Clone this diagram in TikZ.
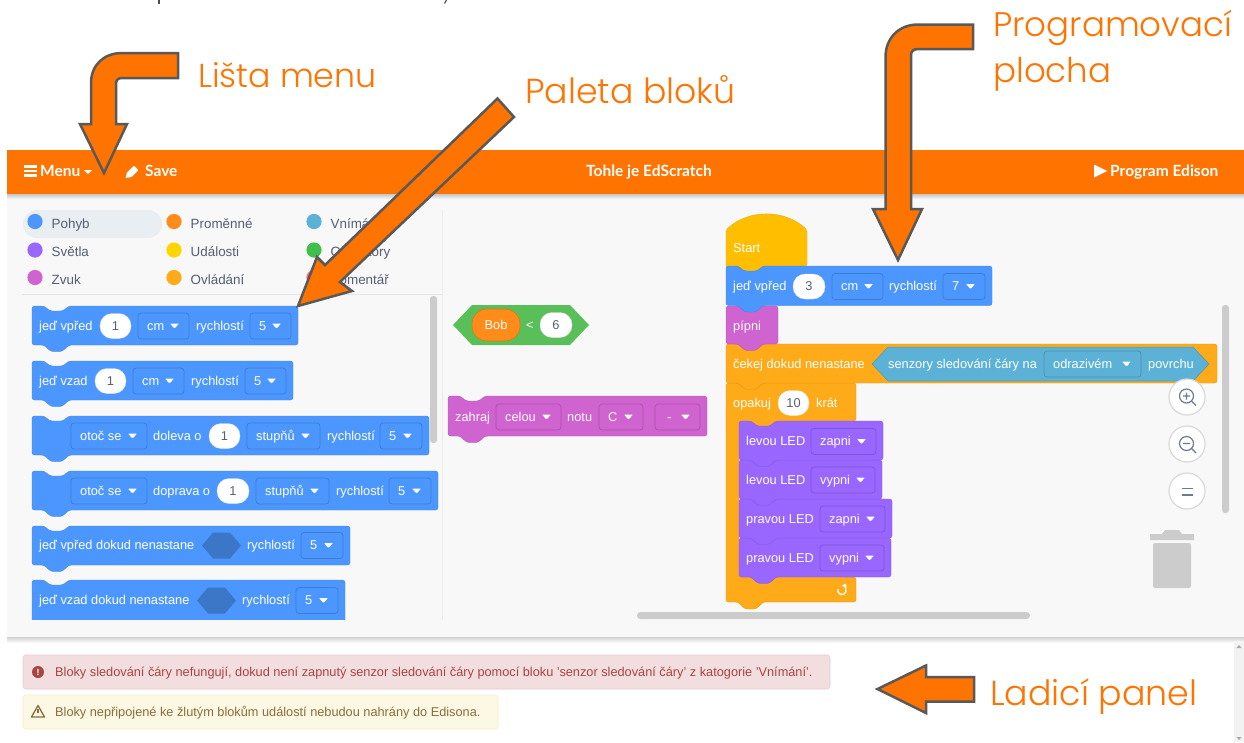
\documentclass[tikz,border=0pt]{standalone}
\usepackage{fontspec}
\setmainfont{Liberation Sans}
\newfontfamily\annotfont{Poppins Light}
\newfontfamily\hdrfont{Lato Bold}
\usetikzlibrary{calc}
\definecolor{orangeA}{HTML}{FF7300}
\definecolor{arrowedge}{HTML}{595959}
\definecolor{bgpanel}{HTML}{F8F8F8}
\definecolor{blueB}{HTML}{4C97FF}
\definecolor{purpleB}{HTML}{9966FF}
\definecolor{pinkB}{HTML}{CF63CF}
\definecolor{amberB}{HTML}{FFAB19}
\definecolor{yellowB}{HTML}{FFBF00}
\definecolor{greenB}{HTML}{59C059}
\definecolor{cyanB}{HTML}{5CB1D6}
\definecolor{varB}{HTML}{FF8C1A}
\definecolor{scrollC}{HTML}{CCCCCC}
\definecolor{catText}{HTML}{575E75}
\definecolor{iconC}{HTML}{6E7A94}
\definecolor{errbg}{HTML}{F2DEDE}\definecolor{errbd}{HTML}{EBCCD1}\definecolor{errtx}{HTML}{A94442}
\definecolor{warnbg}{HTML}{FCF8E3}\definecolor{warnbd}{HTML}{FAEBCC}\definecolor{warntx}{HTML}{8A6D3B}
\definecolor{catsel}{HTML}{E9EEF2}
\definecolor{catY}{HTML}{FFD500}
\definecolor{catG}{HTML}{40BF4A}
\definecolor{catR}{HTML}{FF6680}
\newcounter{nn}
\newcommand{\nid}{n\arabic{nn}}
\tikzset{
  x=1pt,y=-1pt,
  calloutarrow/.style={fill=orangeA,draw=arrowedge,line width=2.5pt,miter limit=10},
  annot/.style={text=orangeA,inner sep=0,anchor=base west},
  uilabel/.style={text=white,inner sep=0,anchor=base west,font=\fontsize{12.8}{12.8}\selectfont},
  darklabel/.style={text=catText,inner sep=0,anchor=base,font=\fontsize{12.8}{12.8}\selectfont},
  catlabel/.style={text=catText,inner sep=0,anchor=base west,font=\fontsize{13.4}{13.4}\selectfont},
  hdrlabel/.style={text=white,inner sep=0,anchor=base west,font=\hdrfont\fontsize{15.5}{15.5}\selectfont},
  msglabel/.style={inner sep=0,anchor=base west,font=\fontsize{12.75}{12.75}\selectfont},
}
% stack block: x y w h colour
\newcommand{\blk}[5]{\begin{scope}[shift={(#1,#2)}]
  \path[fill=#5,draw=#5!88!black,line width=.4pt,rounded corners=2.5pt]
   (0,0) -- (12,0) -- (18,5) -- (31,5) -- (37,0) -- ({#3},0) -- ({#3},{#4}) -- (37,{#4}) -- (30,{#4+6.5}) -- (19,{#4+6.5}) -- (12,{#4}) -- (0,{#4}) -- cycle;
  \end{scope}}
\newcommand{\lbl}[3]{\stepcounter{nn}\node[uilabel] (\nid) at (#1,#2+4.2) {#3};}
\newcommand{\pill}[4]{\path[fill=white,draw=black!12,line width=.3pt,rounded corners=12pt] (#1,#3-12.5) rectangle (#2,#3+12.5);
  \stepcounter{nn}\node[darklabel] (\nid) at ({(#1+#2)/2},#3+4.2) {#4};}
% dropdown: x1 x2 cy text colour
\newcommand{\drp}[5]{\path[fill=#5,draw=#5!82!black,line width=.7pt,rounded corners=3pt] (#1,#3-13) rectangle (#2,#3+13);
  \stepcounter{nn}\node[uilabel] (\nid) at (#1+9,#3+4.2) {#4};
  \path[fill=white,rounded corners=.8pt] (#2-19,#3-2.5) -- (#2-10,#3-2.5) -- (#2-14.5,#3+2.5) -- cycle;}
\newcommand{\hexa}[4]{\path[fill=#4] (#1,#3) -- (#1+11,#3-13) -- (#2-11,#3-13) -- (#2,#3) -- (#2-11,#3+13) -- (#1+11,#3+13) -- cycle;}
\newcommand{\cat}[4]{\path[fill=#3] (#1,#2) circle (7.6);
  \stepcounter{nn}\node[catlabel] (\nid) at (#1+16.5,#2+6.6) {#4};}
\newcommand{\zoombtn}[1]{\path[fill=white,draw=black!15,line width=1.2pt] (1187,#1) circle (18);}
\begin{document}
\begin{tikzpicture}
\useasboundingbox (0,0) rectangle (1244,742);
\fill[white] (0,0) rectangle (1244,742);
% clipped text descenders at the very top
\draw[black!70,line width=1.1pt] (159,0) -- (159,4);
\draw[black!70,line width=1.1pt] (446.5,0) -- (444.5,3.5);
% application body
\fill[bgpanel] (7,194) rectangle (1244,637);
\shade[top color=black!22,bottom color=bgpanel] (7,194) rectangle (1244,199);
\shade[top color=black!18,bottom color=white] (7,637) rectangle (1244,643);
\fill[orangeA] (7,150) rectangle (1244,194);
% debug panel scrollbar
\fill[black!5] (1234,643) rectangle (1244,742);
\path[fill=black!35] (1236.5,648) -- (1241.5,648) -- (1239,645) -- cycle;
\path[fill=black!35] (1236.5,737) -- (1241.5,737) -- (1239,740) -- cycle;
% header
\foreach \yy in {166.5,171,175.5} \draw[white,line width=2.2pt] (24,\yy) -- (37,\yy);
\node[hdrlabel] (menu) at (40,176) {Menu};
\path[fill=white] (84,170) -- (92,170) -- (88,174) -- cycle;
\path[fill=white,rounded corners=.8pt] (125.5,178) -- (127,172.5) -- (134,165.5) -- (138.5,170) -- (131.5,177) -- cycle;
\node[hdrlabel] (save) at (145,176) {Save};
\node[hdrlabel] (title) at (586,176) {Tohle je EdScratch};
\path[fill=white] (1094,164.5) -- (1107,171) -- (1094,177.5) -- cycle;
\node[hdrlabel] (prog) at (1110,176) {Program Edison};
% categories
\fill[catsel,rounded corners=14pt] (23,210) rectangle (162,238);
\cat{35}{221.5}{blueB}{Pohyb}
\cat{35}{250}{purpleB}{Světla}
\cat{35}{277.5}{pinkB}{Zvuk}
\cat{174}{221.5}{varB}{Proměnné}
\cat{174}{250}{catY}{Události}
\cat{174}{277.5}{amberB}{Ovládání}
\cat{314}{221.5}{cyanB}{Vnímání}
\cat{314}{250}{catG}{Operátory}
\cat{314}{277.5}{catR}{Komentář}
\draw[black!10,line width=.7pt] (22,294.5) -- (442,294.5);
\draw[black!8,line width=.7pt] (442.5,210) -- (442.5,620);
\path[fill=scrollC,rounded corners=3pt] (430,296) rectangle (437,443);
% palette
\begin{scope}
\clip (7,295) rectangle (442,619);
\blk{32}{306}{266}{39}{blueB}
\lbl{39}{326}{jeď vpřed}\pill{100}{131}{326}{1}\drp{138}{189}{326}{cm}{blueB}\lbl{196}{326}{rychlostí}\drp{250}{291}{326}{5}{blueB}
\blk{32}{361}{261}{39}{blueB}
\lbl{39}{381}{jeď vzad}\pill{95}{126}{381}{1}\drp{133}{184}{381}{cm}{blueB}\lbl{191}{381}{rychlostí}\drp{245}{286}{381}{5}{blueB}
\blk{32}{416}{397}{39}{blueB}
\drp{71}{147}{436}{otoč se}{blueB}\lbl{153}{436}{doleva o}\pill{209}{240}{436}{1}\drp{247}{320}{436}{stupňů}{blueB}\lbl{327}{436}{rychlostí}\drp{380}{422}{436}{5}{blueB}
\blk{32}{471}{406}{39}{blueB}
\drp{71}{147}{491}{otoč se}{blueB}\lbl{153}{491}{doprava o}\pill{217}{249}{491}{1}\drp{256}{329}{491}{stupňů}{blueB}\lbl{336}{491}{rychlostí}\drp{389}{431}{491}{5}{blueB}
\blk{32}{526}{318}{39}{blueB}
\lbl{39}{545.5}{jeď vpřed dokud nenastane}\hexa{202}{241}{545.5}{blueB!78!black}\lbl{247}{545.5}{rychlostí}\drp{301}{343}{545.5}{5}{blueB}
\blk{32}{580}{313}{60}{blueB}
\lbl{39}{600.5}{jeď vzad dokud nenastane}\hexa{197}{236}{600.5}{blueB!78!black}\lbl{242}{600.5}{rychlostí}\drp{296}{338}{600.5}{5}{blueB}
\end{scope}
% loose workspace blocks
\path[fill=greenB] (453,325) -- (472,305) -- (570,305) -- (589,325) -- (570,345) -- (472,345) -- cycle;
\path[fill=varB,draw=varB!85!black,line width=.6pt,rounded corners=15pt] (472,309) rectangle (520,341);
\node[uilabel,anchor=base] (bob) at (496,329.2) {Bob};
\lbl{526}{325}{<}
\pill{540}{572}{325}{6}
\blk{448}{396}{259}{40}{pinkB}
\lbl{455}{417}{zahraj}\drp{496}{561}{417}{celou}{pinkB}\lbl{567}{417}{notu}\drp{599}{643}{417}{C}{pinkB}\drp{655}{700}{417}{\hspace*{3pt}-}{pinkB}
% stack
\path[fill=yellowB,draw=yellowB!90!black,line width=.4pt,rounded corners=2pt] (726,267) -- (726,230) .. controls (748,209) and (785,209) .. (807,230) -- (807,266) -- (763,266) -- (756,272) -- (745,272) -- (738,266) -- cycle;
\node[uilabel] (start) at (733,252.5) {Start};
% C block
\path[fill=amberB,draw=amberB!90!black,line width=.4pt,rounded corners=2.5pt] (726,383) -- (738,383) -- (744,388) -- (757,388) -- (763,383) -- (856,383) -- (856,421) -- (776,421) -- (770,427) -- (757,427) -- (751,421) -- (739,421) -- (739,577) -- (856,577) -- (856,602) -- (763,602) -- (756,609) -- (745,609) -- (738,602) -- (726,602) -- cycle;
\lbl{733}{403}{opakuj}\pill{778}{809}{403}{10}\lbl{816}{403}{krát}
\draw[white,line width=1.3pt] (838,589) arc[start angle=200,end angle=-30,radius=4.2];
\path[fill=white] (846,583.5) -- (842,585.5) -- (846.5,588.5) -- cycle;
% wait block
\blk{726}{344}{491}{39}{amberB}
\lbl{733}{364}{čekej dokud nenastane}
\path[fill=cyanB,draw=cyanB!85!black,line width=.5pt] (872,364) -- (888,347) -- (1193,347) -- (1209,364) -- (1193,381) -- (888,381) -- cycle;
\lbl{888}{364}{senzory sledování čáry na}\drp{1044}{1141}{364}{odrazivém}{cyanB}\lbl{1148}{364}{povrchu}
% pipni
\blk{726}{306}{52}{38}{pinkB}
\lbl{733}{326}{pípni}
% drive
\blk{726}{266}{266}{39.5}{blueB}
\lbl{733}{286.5}{jeď vpřed}\pill{793}{825}{286.5}{3}\drp{832}{883}{286.5}{cm}{blueB}\lbl{889}{286.5}{rychlostí}\drp{943}{985}{286.5}{7}{blueB}
% LEDs
\blk{739}{538}{152}{39}{purpleB}
\lbl{746}{558}{pravou LED}\drp{820}{884}{558}{vypni}{purpleB}
\blk{739}{499}{153}{39}{purpleB}
\lbl{746}{519}{pravou LED}\drp{820}{885}{519}{zapni}{purpleB}
\blk{739}{460}{143}{39}{purpleB}
\lbl{746}{480}{levou LED}\drp{811}{875}{480}{vypni}{purpleB}
\blk{739}{421}{144}{39}{purpleB}
\lbl{746}{441.5}{levou LED}\drp{811}{876}{441.5}{zapni}{purpleB}
% workspace scrollbars
\path[fill=scrollC,rounded corners=3pt] (1222,305) rectangle (1229,513);
\path[fill=scrollC,rounded corners=3.5pt] (637,612) rectangle (1030,619);
% zoom buttons
\zoombtn{397}\zoombtn{444}\zoombtn{491}
\draw[iconC,line width=1.2pt] (1186.5,396) circle (7) (1191.5,401) -- (1196,405.5) (1183,396) -- (1190,396) (1186.5,392.5) -- (1186.5,399.5);
\draw[iconC,line width=1.2pt] (1186.5,443.5) circle (7) (1191.5,448.5) -- (1196,453) (1183,443.5) -- (1190,443.5);
\draw[iconC,line width=1.6pt] (1181.5,488.5) -- (1192.5,488.5) (1181.5,495) -- (1192.5,495);
% trash
\path[fill=scrollC] (1150,540) -- (1150,534) -- (1162,534) -- (1165,530) -- (1179,530) -- (1182,534) -- (1194,534) -- (1194,540) -- cycle;
\path[fill=scrollC,rounded corners=2pt] (1153,543) -- (1191,543) -- (1191,588) -- (1153,588) -- cycle;
% debug panel
\path[fill=errbg,draw=errbd,line width=.6pt,rounded corners=3pt] (23,655) rectangle (830,689);
\path[fill=errtx] (38,672) circle (6);
\node[text=white,inner sep=0,font=\bfseries\fontsize{9}{9}\selectfont] (bang) at (38,672) {!};
\node[msglabel,text=errtx] (err) at (55,676) {Bloky sledování čáry nefungují, dokud není zapnutý senzor sledování čáry pomocí bloku 'senzor sledování čáry' z katogorie 'Vnímání'.};
\path[fill=warnbg,draw=warnbd,line width=.6pt,rounded corners=3pt] (23,695) rectangle (498,729);
\draw[warntx,line width=1.3pt,line join=round] (38,705.5) -- (44.5,717) -- (31.5,717) -- cycle;
\draw[warntx,line width=1.1pt] (38,709) -- (38,713);
\node[msglabel,text=warntx] (warn) at (55,716) {Bloky nepřipojené ke žlutým blokům událostí nebudou nahrány do Edisona.};
% callout arrows
\path[calloutarrow] (178,53) -- (122,53) .. controls (104,53) and (91,65) .. (91,83) -- (91,124) -- (80,124) -- (104,173) -- (127,124) -- (116,124) -- (116,84) .. controls (116,80) and (118,78) .. (122,78) -- (178,78) -- cycle;
\path[calloutarrow] (497.5,98.5) -- (325,265) -- (317,257) -- (298,306) -- (352,291) -- (340,282) -- (514,117) -- cycle;
\path[calloutarrow] (973,24.5) -- (918,24.5) .. controls (899,24.5) and (885.5,38) .. (885.5,57) -- (885.5,209) -- (873,209) -- (898,260) -- (922,209) -- (911,209) -- (911,55) .. controls (911,51) and (914,49) .. (918,49) -- (973,49) -- cycle;
\path[calloutarrow] (974,677) -- (926,677) -- (926,665.5) -- (877.5,689) -- (926,713) -- (926,701.5) -- (974,701.5) -- cycle;
% callout labels
\node[annot,font=\annotfont\fontsize{33.2}{33.2}\selectfont] (t1) at (198,87) {Lišta menu};
\node[annot,font=\annotfont\fontsize{34.7}{34.7}\selectfont] (t2) at (525,103) {Paleta bloků};
\node[annot,font=\annotfont\fontsize{34.1}{34.1}\selectfont] (t3) at (993,36) {Programovací};
\node[annot,font=\annotfont\fontsize{34.1}{34.1}\selectfont] (t4) at (993,82) {plocha};
\node[annot,font=\annotfont\fontsize{34.8}{34.8}\selectfont] (t5) at (990,705.5) {Ladicí panel};
\end{tikzpicture}
\end{document}
